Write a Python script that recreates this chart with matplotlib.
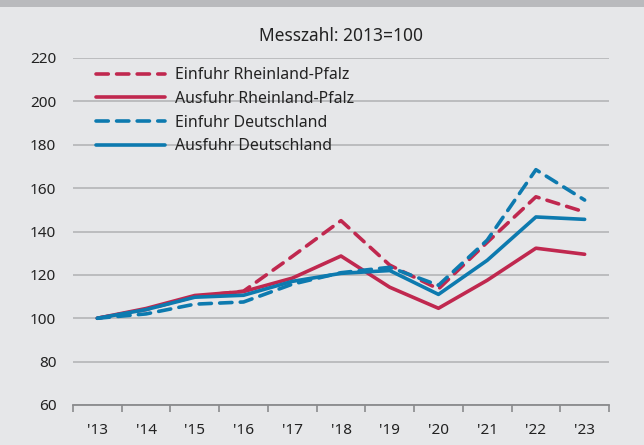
import matplotlib.pyplot as plt
from matplotlib.patches import Rectangle

# Messzahl 2013 = 100
jahre = ["'13", "'14", "'15", "'16", "'17", "'18", "'19", "'20", "'21", "'22", "'23"]
einfuhr_rlp = [100, 104, 110, 112.5, 128.5, 145, 124.5, 113.5, 135, 156, 149]
ausfuhr_rlp = [100, 104.5, 110.5, 112.3, 118.5, 128.7, 114.3, 104.6, 117.5, 132.3, 129.5]
einfuhr_de = [100, 102, 106.5, 107.5, 115.7, 121, 123.5, 115.2, 136, 168.5, 154.5]
ausfuhr_de = [100, 104, 109.7, 110.6, 117, 120.7, 122, 111, 126.7, 146.7, 145.6]

rot = '#c0284f'
blau = '#0d7aaf'
bg = '#e6e7e9'

plt.rcParams['font.family'] = ['Noto Sans', 'DejaVu Sans']

fig = plt.figure(figsize=(6.44, 4.45), dpi=100, facecolor=bg)
fig.patches.append(Rectangle((0, 1 - 7 / 445), 1, 7 / 445, transform=fig.transFigure,
                             facecolor='#b9babd', edgecolor='none'))
ax = fig.add_axes([73 / 644, 1 - 405 / 445, (609 - 73) / 644, (405 - 58) / 445])
ax.set_facecolor(bg)

x = range(len(jahre))
dash = (0, (3.4, 2.3))
ax.plot(x, einfuhr_rlp, color=rot, lw=2.6, ls=dash, dash_capstyle='round',
        label='Einfuhr Rheinland-Pfalz', zorder=3)
ax.plot(x, ausfuhr_rlp, color=rot, lw=2.6, solid_capstyle='round',
        label='Ausfuhr Rheinland-Pfalz', zorder=3)
ax.plot(x, einfuhr_de, color=blau, lw=2.6, ls=dash, dash_capstyle='round',
        label='Einfuhr Deutschland', zorder=4)
ax.plot(x, ausfuhr_de, color=blau, lw=2.6, solid_capstyle='round',
        label='Ausfuhr Deutschland', zorder=4)

ax.set_xlim(-0.5, len(jahre) - 0.5)
ax.set_ylim(60, 220)
ax.set_yticks(range(60, 221, 20))
ax.set_xticks(x)
ax.set_xticklabels(jahre)
ax.set_xticks([i - 0.5 for i in range(len(jahre) + 1)], minor=True)

ax.grid(axis='y', color='#b4b5b7', lw=1.2)
ax.set_axisbelow(True)
for s in ['top', 'right', 'left']:
    ax.spines[s].set_visible(False)
ax.spines['bottom'].set_color('#8a8b8d')
ax.spines['bottom'].set_linewidth(1.3)
ax.tick_params(axis='y', length=0, pad=12, labelsize=11, labelcolor='#222222')
ax.tick_params(axis='x', which='major', length=0, pad=13, labelsize=11, labelcolor='#222222')
ax.tick_params(axis='x', which='minor', length=5, width=1.2, color='#8a8b8d')

ax.set_title('Messzahl: 2013=100', fontsize=12.5, color='#222222', pad=12)

leg = ax.legend(loc='upper left', bbox_to_anchor=(0.042, 0.973), frameon=False,
                borderaxespad=0, borderpad=0,
                fontsize=11.4, handlelength=4.4, handletextpad=0.6, labelspacing=0.48,
                labelcolor='#222222')

fig.savefig('out.png', dpi=100, facecolor=bg)
